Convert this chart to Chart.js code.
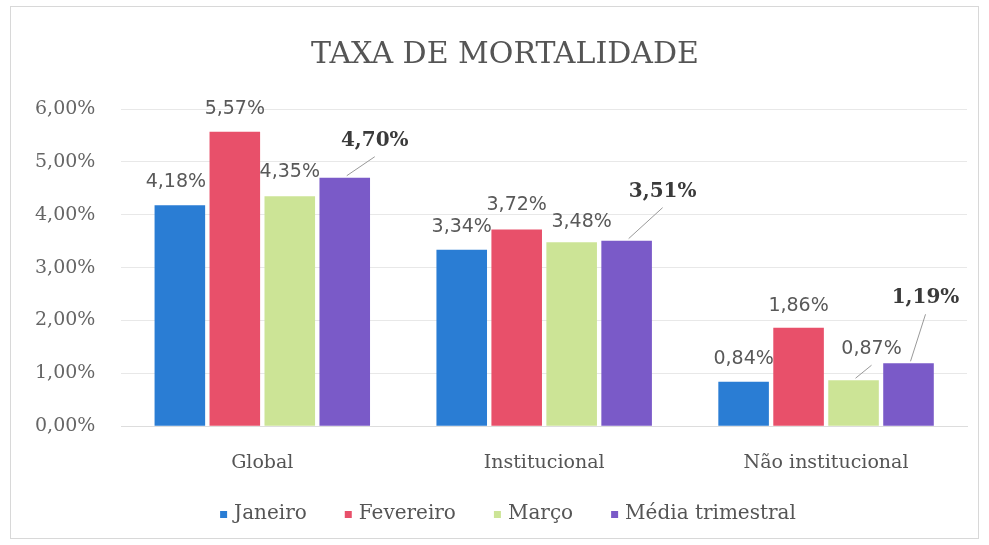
<!DOCTYPE html>
<html>
<head>
<meta charset="utf-8">
<script src="https://cdn.jsdelivr.net/npm/chart.js@4"></script>
<style>
  html, body { margin: 0; padding: 0; background: #fff; }
  #wrap { width: 989px; height: 545px; }
</style>
</head>
<body>
<div id="wrap"><canvas id="taxa"></canvas></div>
<script>
var titulo = 'TAXA DE MORTALIDADE';
var categorias = ['Global', 'Institucional', 'Não institucional'];
var janeiro = [4.18, 3.34, 0.84];
var fevereiro = [5.57, 3.72, 1.86];
var marco = [4.35, 3.48, 0.87];
var mediaTrimestral = [4.70, 3.51, 1.19];
var ticksY = [0, 1, 2, 3, 4, 5, 6];

// deslocamento dos rótulos em px (dx, dy) a partir do topo da barra
var rotuloOffsets = [
    [[-4, -23], [0, -23], [0, -23]],
    [[0, -23], [0, -24], [0, -22]],
    [[0, -24], [10, -20], [18, -31]],
    [[30, -37], [36, -49], [17, -65]]
];
var comLinha = [
    [false, false, false],
    [false, false, false],
    [false, false, true],
    [true, true, true]
];

function fmt(v) {
    return v.toFixed(2).replace('.', ',') + '%';
}

var rotulos = {
    id: 'rotulos',
    afterDatasetsDraw: function (chart) {
        var ctx = chart.ctx;
        ctx.save();
        chart.data.datasets.forEach(function (ds, i) {
            var meta = chart.getDatasetMeta(i);
            meta.data.forEach(function (bar, j) {
                var off = rotuloOffsets[i][j];
                var x = bar.x + off[0];
                var y = bar.y + off[1];
                var negrito = i === 3;
                ctx.font = negrito ? 'bold 20px "DejaVu Serif"' : '19px "DejaVu Sans"';
                ctx.fillStyle = negrito ? '#3a3a3a' : '#595959';
                ctx.textAlign = 'center';
                ctx.textBaseline = 'middle';
                ctx.fillText(fmt(ds.data[j]), x, y);
                if (comLinha[i][j]) {
                    ctx.strokeStyle = '#999';
                    ctx.lineWidth = 1;
                    ctx.beginPath();
                    ctx.moveTo(bar.x + 2, bar.y - 2);
                    ctx.lineTo(x, y + 16);
                    ctx.stroke();
                }
            });
        });
        ctx.restore();
    }
};

// moldura, título e legenda desenhados à mão
var moldura = {
    id: 'moldura',
    beforeDraw: function (chart) {
        var ctx = chart.ctx;
        ctx.save();
        ctx.strokeStyle = '#d8d8d8';
        ctx.lineWidth = 1;
        ctx.strokeRect(10.5, 6.5, 968, 532);
        ctx.font = '30px "DejaVu Serif"';
        ctx.fillStyle = '#555';
        ctx.textAlign = 'center';
        ctx.textBaseline = 'middle';
        ctx.fillText(titulo, 505, 55);
        ctx.restore();
    },
    afterDraw: function (chart) {
        var ctx = chart.ctx;
        var caixa = 7, folga = 7, espaco = 38;
        ctx.save();
        ctx.font = '20px "DejaVu Serif"';
        ctx.textBaseline = 'middle';
        ctx.textAlign = 'left';
        var ds = chart.data.datasets;
        var total = 0;
        ds.forEach(function (d, i) {
            total += caixa + folga + ctx.measureText(d.label).width;
            if (i < ds.length - 1) total += espaco;
        });
        var x = 508 - total / 2;
        var y = 514;
        ds.forEach(function (d) {
            ctx.fillStyle = d.backgroundColor;
            ctx.fillRect(x, y - 3, caixa, caixa);
            x += caixa + folga;
            ctx.fillStyle = '#555';
            ctx.fillText(d.label, x, y);
            x += ctx.measureText(d.label).width + espaco;
        });
        ctx.restore();
    }
};

var serie = function (label, data, cor) {
    return {
        label: label,
        data: data,
        backgroundColor: cor,
        borderWidth: 0,
        categoryPercentage: 0.78,
        barPercentage: 0.92
    };
};

new Chart(document.getElementById('taxa'), {
    type: 'bar',
    data: {
        labels: categorias,
        datasets: [
            serie('Janeiro', janeiro, 'rgb(42,125,212)'),
            serie('Fevereiro', fevereiro, 'rgb(232,80,106)'),
            serie('Março', marco, 'rgb(204,228,150)'),
            serie('Média trimestral', mediaTrimestral, 'rgb(122,90,200)')
        ]
    },
    options: {
        responsive: true,
        maintainAspectRatio: false,
        animation: false,
        layout: { padding: { left: 9, right: 22, top: 109, bottom: 54 } },
        plugins: {
            title: { display: false },
            legend: { display: false },
            tooltip: { enabled: false }
        },
        scales: {
            x: {
                grid: { display: false },
                border: { color: '#ddd' },
                ticks: {
                    color: '#555',
                    padding: 17,
                    font: { family: '"DejaVu Serif"', size: 19 }
                }
            },
            y: {
                min: ticksY[0],
                max: ticksY[ticksY.length - 1],
                afterBuildTicks: function (axis) {
                    axis.ticks = ticksY.map(function (v) { return { value: v }; });
                },
                grid: { color: '#e8e8e8', drawTicks: false },
                border: { display: false },
                ticks: {
                    color: '#666',
                    padding: 26,
                    font: { family: '"DejaVu Serif"', size: 19 },
                    callback: function (v) { return fmt(v); }
                }
            }
        }
    },
    plugins: [rotulos, moldura]
});
</script>
</body>
</html>
